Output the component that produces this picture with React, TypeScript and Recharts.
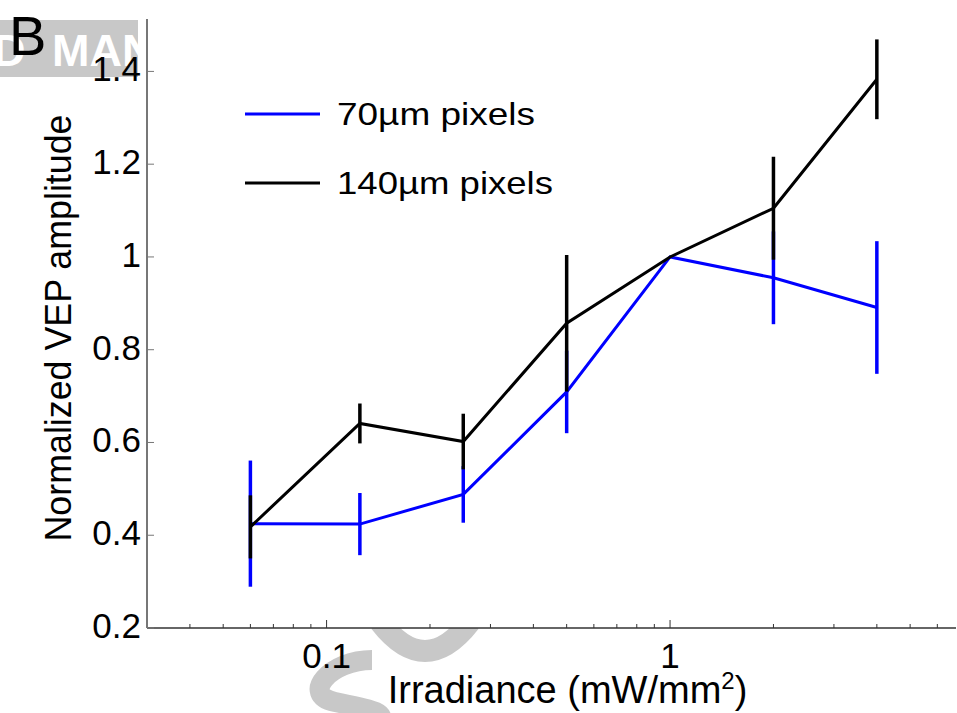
import React from 'react';
import { LineChart, Line, XAxis, YAxis, ErrorBar, Legend } from 'recharts';

// irradiance levels (mW/mm2)
const irradiance = [0.06, 0.125, 0.25, 0.5, 1, 2, 4];
const px70 = [0.425, 0.424, 0.488, 0.709, 1.0, 0.955, 0.891];
const px70Err = [0.136, 0.067, 0.061, 0.089, 0, 0.1, 0.143];
const px140 = [0.418, 0.641, 0.602, 0.857, 1.0, 1.105, 1.383];
const px140Err = [0.068, 0.043, 0.06, 0.147, 0, 0.111, 0.086];

const xTicks = [
  0.04, 0.05, 0.06, 0.07, 0.08, 0.09, 0.1, 0.2, 0.3, 0.4, 0.5, 0.6, 0.7, 0.8, 0.9, 1, 2, 3, 4, 5, 6,
];
const xLabels = [0.1, 1];
const yTicks = [0.2, 0.4, 0.6, 0.8, 1, 1.2, 1.4];

const chartData = irradiance.map((x, i) => ({
  x,
  px70: px70[i],
  px70Err: px70Err[i],
  px140: px140[i],
  px140Err: px140Err[i],
}));

const FONT = '"Liberation Sans", Arial, sans-serif';
const BLUE = '#0000ff';

const XTick = (props: any) => {
  const { x, y, payload } = props;
  const major = xLabels.includes(payload.value);
  return (
    <g>
      <line x1={x} y1={y} x2={x} y2={y - (major ? 8 : 4)} stroke="#333" strokeWidth={1} />
      {major && (
        <text x={x} y={y + 40} textAnchor="middle" fontSize={35} fontFamily={FONT} fill="#000">
          {payload.value}
        </text>
      )}
    </g>
  );
};

const YTick = (props: any) => {
  const { x, y, payload } = props;
  return (
    <g>
      <line x1={x} y1={y} x2={x + 7} y2={y} stroke="#777" strokeWidth={1} />
      <text x={x - 6} y={y + 10} textAnchor="end" fontSize={35} fontFamily={FONT} fill="#000">
        {payload.value}
      </text>
    </g>
  );
};

const LegendContent = () => (
  <svg width={360} height={130}>
    <line x1={5} y1={34} x2={80} y2={34} stroke={BLUE} strokeWidth={3} />
    <text x={97} y={45} fontSize={32} fontFamily={FONT} textLength={198} lengthAdjust="spacingAndGlyphs">
      70µm pixels
    </text>
    <line x1={5} y1={103} x2={80} y2={103} stroke="#000" strokeWidth={3} />
    <text x={97} y={114} fontSize={32} fontFamily={FONT} textLength={216} lengthAdjust="spacingAndGlyphs">
      140µm pixels
    </text>
  </svg>
);

export default function App() {
  return (
    <div style={{ position: 'absolute', left: 0, top: 0, width: 957, height: 713, background: '#fff', overflow: 'hidden' }}>
      {/* watermark bits */}
      <svg width={957} height={713} style={{ position: 'absolute', left: 0, top: 0 }}>
        <rect x={0} y={20} width={138} height={57} fill="#c8c8c8" />
        <text x={-7} y={66} fontSize={45} fontWeight="bold" fontFamily={FONT} fill="#fff">D</text>
        <text x={52} y={66} fontSize={45} fontWeight="bold" fontFamily={FONT} fill="#fff">MAN</text>
        <rect x={138} y={0} width={20} height={90} fill="#fff" />
        <path d="M 380 622 Q 425 680 470 622" stroke="#c8c8c8" strokeWidth={22} fill="none" />
        <path d="M 372 660 C 330 660, 300 695, 335 702 S 390 712, 378 725" stroke="#c8c8c8" strokeWidth={20} fill="none" />
        <rect x={147} y={19} width={810} height={609} fill="#fff" />
      </svg>
      <div style={{ position: 'absolute', left: 9, top: 6, fontFamily: FONT, fontSize: 56, lineHeight: '60px', color: '#000' }}>
        B
      </div>
      <div style={{ position: 'absolute', left: 0, top: 0 }}>
        <LineChart width={957} height={713} data={chartData} margin={{ top: 19, right: 1, bottom: 0, left: 0 }}>
          <XAxis
            dataKey="x"
            type="number"
            scale="log"
            domain={[0.03, 6.8]}
            allowDataOverflow
            ticks={xTicks}
            interval={0}
            tick={<XTick />}
            tickSize={0}
            tickMargin={0}
            tickLine={false}
            height={85}
            axisLine={{ stroke: '#333', strokeWidth: 1.5 }}
            label={{
              content: (p: any) => {
                const vb = p.viewBox;
                return (
                  <text x={vb.x + vb.width / 2 + 16} y={703} textAnchor="middle" fontSize={38} fontFamily={FONT} fill="#000">
                    Irradiance (mW/mm<tspan fontSize={24} dy={-14}>2</tspan>
                    <tspan dy={14}>)</tspan>
                  </text>
                );
              },
            }}
          />
          <YAxis
            type="number"
            domain={[0.2, 1.513]}
            allowDataOverflow
            ticks={yTicks}
            interval={0}
            tick={<YTick />}
            tickSize={0}
            tickMargin={0}
            tickLine={false}
            width={147}
            axisLine={{ stroke: '#777', strokeWidth: 2 }}
            label={{
              content: () => (
                <text
                  x={71}
                  y={328}
                  transform="rotate(-90, 71, 328)"
                  textAnchor="middle"
                  fontSize={37}
                  fontFamily={FONT}
                  fill="#000"
                  textLength={427}
                  lengthAdjust="spacingAndGlyphs"
                >
                  Normalized VEP amplitude
                </text>
              ),
            }}
          />
          <Legend
            content={<LegendContent />}
            layout="horizontal"
            verticalAlign="middle"
            align="center"
            wrapperStyle={{ left: 240, top: 80, width: 360, height: 130 }}
          />
          <Line
            dataKey="px70"
            stroke={BLUE}
            strokeWidth={3}
            dot={false}
            isAnimationActive={false}
            legendType="line"
          >
            <ErrorBar dataKey="px70Err" width={0} stroke={BLUE} strokeWidth={3.5} direction="y" isAnimationActive={false} />
          </Line>
          <Line
            dataKey="px140"
            stroke="#000"
            strokeWidth={3}
            dot={false}
            isAnimationActive={false}
            legendType="line"
          >
            <ErrorBar dataKey="px140Err" width={0} stroke="#000" strokeWidth={3.5} direction="y" isAnimationActive={false} />
          </Line>
        </LineChart>
      </div>
    </div>
  );
}
